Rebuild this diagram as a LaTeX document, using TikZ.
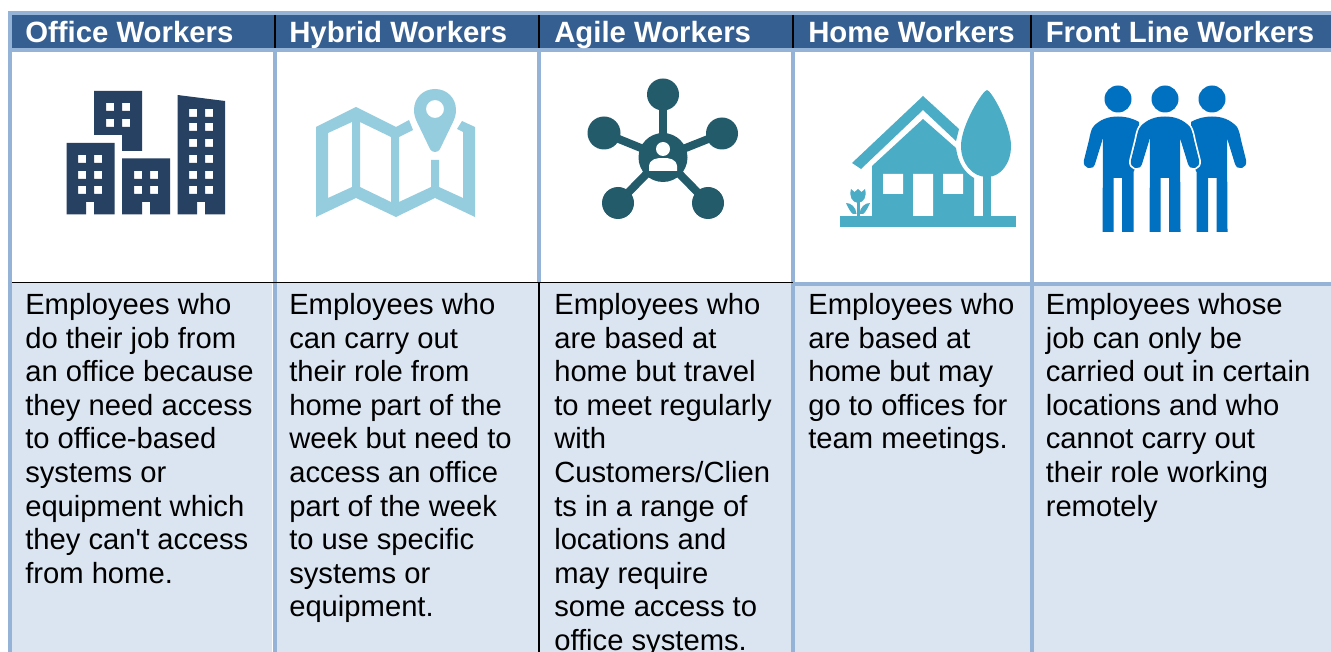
\documentclass[tikz,border=0pt]{standalone}
\usepackage{fontspec}
\setmainfont{Liberation Sans}
\newfontfamily\plainsans{Liberation Sans}
\definecolor{hdr}{HTML}{365F91}
\definecolor{rule}{HTML}{95B3D7}
\definecolor{cell}{HTML}{DBE5F1}
\definecolor{navy}{HTML}{264161}
\definecolor{lightblue}{HTML}{95CDDE}
\definecolor{teal}{HTML}{235B6B}
\definecolor{sky}{HTML}{4BACC6}
\definecolor{royal}{HTML}{0070C0}
\tikzset{
  x=0.75pt,y=-0.75pt,
  headtext/.style={anchor=base west,inner sep=0pt,text=white,font=\fontsize{22pt}{25.3pt}\selectfont\bfseries},
  bodytext/.style={anchor=north west,inner sep=0pt,align=left,text=black,font=\fontsize{21.9pt}{25.2pt}\plainsans\selectfont},
  bluerule/.style={draw=rule,line width=3pt},
  blackrule/.style={draw=black,line width=1.5pt},
}
\begin{document}
\begin{tikzpicture}
\useasboundingbox (0,0) rectangle (1331,652);
\fill[white] (0,0) rectangle (1331,652);
% fills
\fill[hdr] (10,13) rectangle (1331,50);
\fill[cell] (10,283) rectangle (1331,652);
% rules
\draw[draw=white,line width=0.75pt] (272.5,284) -- (272.5,652);
\draw[bluerule] (8,13) -- (1331,13);
\draw[bluerule] (10,50) -- (1331,50);
\draw[bluerule] (10,11) -- (10,652);
\draw[bluerule] (275,50) -- (275,652);
\draw[bluerule] (539,50) -- (539,283);
\draw[bluerule] (793,50) -- (793,652);
\draw[bluerule] (1031.5,50) -- (1031.5,652);
\draw[bluerule] (793,284) -- (1331,284);
\draw[draw=black,line width=0.9pt] (12,282.5) -- (793,282.5);
\draw[blackrule] (539,282.5) -- (539,652);
\draw[blackrule] (275,15) -- (275,48);
\draw[blackrule] (539,15) -- (539,48);
\draw[blackrule] (793,15) -- (793,48);
\draw[blackrule] (1031,15) -- (1031,48);
% headers
\node[headtext] (h1) at (25,43) {Office Workers};
\node[headtext] (h2) at (289,43) {Hybrid Workers};
\node[headtext] (h3) at (554,43) {Agile Workers};
\node[headtext] (h4) at (808,43) {Home Workers};
\node[headtext] (h5) at (1045.5,43) {Front Line Workers};
% body
\node[bodytext] (b1) at (25,293) {Employees who\\do their job from\\an office because\\they need access\\to office-based\\systems or\\equipment which\\they can't access\\from home.};
\node[bodytext] (b2) at (289,293) {Employees who\\can carry out\\their role from\\home part of the\\week but need to\\access an office\\part of the week\\to use specific\\systems or\\equipment.};
\node[bodytext] (b3) at (554,293) {Employees who\\are based at\\home but travel\\to meet regularly\\with\\Customers/Clien\\ts in a range of\\locations and\\may require\\some access to\\office systems.};
\node[bodytext] (b4) at (808,293) {Employees who\\are based at\\home but may\\go to offices for\\team meetings.};
\node[bodytext] (b5) at (1045.5,293) {Employees whose\\job can only be\\carried out in certain\\locations and who\\cannot carry out\\their role working\\remotely};
% office icon
\fill[navy,even odd rule] (94,91) -- (142,91) -- (142,151) -- (122,151) -- (122,135) -- (94,135) -- cycle
  (106,103) rectangle (114,111) (122,103) rectangle (130,111)
  (106,119) rectangle (114,127) (122,119) rectangle (130,127);
\fill[navy,even odd rule] (66.5,143) -- (114.5,143) -- (114.5,214.5) -- (94,214.5) -- (94,202) -- (86,202) -- (86,214.5) -- (66.5,214.5) -- cycle
  (78,155) rectangle (86,163) (94,155) rectangle (102,163)
  (78,171) rectangle (86,179) (94,171) rectangle (102,179)
  (78,186) rectangle (86,194) (94,186) rectangle (102,194);
\fill[navy,even odd rule] (122,158.5) -- (170,158.5) -- (170,214.5) -- (150,214.5) -- (150,202) -- (142,202) -- (142,214.5) -- (122,214.5) -- cycle
  (134,171) rectangle (142,179) (150,171) rectangle (158,179)
  (134,186) rectangle (142,194) (150,186) rectangle (158,194);
\fill[navy,even odd rule] (177.5,95) -- (225,101) -- (225,214.5) -- (205,214.5) -- (205,202) -- (197,202) -- (197,214.5) -- (177.5,214.5) -- cycle
  (189,109) rectangle (197,117) (205,109) rectangle (213,117)
  (189,123) rectangle (197,131) (205,123) rectangle (213,131)
  (189,139) rectangle (197,147) (205,139) rectangle (213,147)
  (189,155) rectangle (197,163) (205,155) rectangle (213,163)
  (189,171) rectangle (197,179) (205,171) rectangle (213,179)
  (189,186) rectangle (197,194) (205,186) rectangle (213,194);
% map icon
\fill[lightblue,even odd rule] (316,127) -- (356,107) -- (396,127) -- (409,120) -- (413,130) -- (399,137) -- (399,202) -- (431,187) -- (431,160) -- (439,160) -- (439,187) -- (463,198) -- (463,132) -- (457,129) -- (462,121) -- (475,127) -- (475,217) -- (435,198) -- (396,217) -- (356,198) -- (316,217) -- cycle
  (328,133) -- (352,122) -- (352,187) -- (328,198) -- cycle
  (360,122) -- (391,137) -- (391,202) -- (360,187) -- cycle;
\fill[lightblue,even odd rule] (435,89) .. controls (447,89) and (456,98) .. (456,110) .. controls (456,114) and (455,118) .. (453,122) -- (440,149) .. controls (438,153) and (432,153) .. (430,149) -- (417,122) .. controls (415,118) and (414,114) .. (414,110) .. controls (414,98) and (423,89) .. (435,89) -- cycle
  (435,109) circle[radius=9];
% network icon
\foreach \px/\py/\r in {663/94.5/16,604/133/16.5,722/133.5/16,618/203/16,708/203/16}{
  \draw[teal,line width=6pt] (663,157) -- (\px,\py);
  \fill[teal] (\px,\py) circle[radius=\r];
}
\fill[teal] (663,157.5) circle[radius=24.5];
\fill[white] (663,149) circle[radius=7];
\fill[white] (649,171) -- (649,166) .. controls (650,159) and (656,158) .. (663,158) .. controls (670,158) and (676,159) .. (677,166) -- (677,171) -- cycle;
% house icon
\fill[sky] (852,163) -- (923,96) -- (959,129) -- (956,141) -- (923,110) -- (861,169) -- cycle;
\fill[sky] (872,166) -- (923,119) -- (956,148) .. controls (958,163) and (965,173) .. (974,178) -- (974,216) -- (872,216) -- cycle;
\fill[sky] (840,216) rectangle (1016,227.5);
\fill[sky] (983,175) rectangle (991,216);
\fill[sky] (987,90) .. controls (991,90) and (1011,125) .. (1011,146) .. controls (1011,163) and (1001,177) .. (987,177) .. controls (972,177) and (961,163) .. (961,146) .. controls (961,125) and (983,90) .. (987,90) -- cycle;
\fill[white] (883,174) rectangle (903,194) (913,174) rectangle (933,216) (943,174) rectangle (963,194);
% flower
\fill[sky] (851,189) -- (854.5,192) -- (858,189) -- (861.5,192) -- (865,189) .. controls (867,197) and (864,202) .. (858,203) .. controls (852,202) and (849,197) .. (851,189) -- cycle;
\fill[sky] (857,202) rectangle (859.5,216);
\fill[sky] (846,203) .. controls (851,203) and (856,207) .. (856.5,214) -- (853,214) .. controls (850,212) and (848,207) .. (846,203) -- cycle;
\fill[sky] (870,203) .. controls (865,203) and (860,207) .. (859.5,214) -- (863,214) .. controls (866,212) and (868,207) .. (870,203) -- cycle;
% people icon: the two side figures, then the front figure with a white halo
\foreach \cx/\sx in {1118/1,1212/-1}{
  \begin{scope}[shift={(\cx,0)},xscale=\sx]
    \fill[royal] (0,99) circle[radius=13.5];
    \fill[royal] (0,116.5) .. controls (-9,116.5) and (-18,119) .. (-25,127) .. controls (-27,130) and (-28,135) .. (-29,140) -- (-34,160) .. controls (-36,169) and (-25,171) .. (-23,164) -- (-15,138) -- (-15.5,232) -- (-4.5,232) -- (-4.5,178) -- (4,178) -- (4,232) -- (15.5,232) -- (15.5,172) -- (21,160) -- (21,122) .. controls (14,118) and (7,116.5) .. (0,116.5) -- cycle;
  \end{scope}
}
\begin{scope}[shift={(1165,0)}]
  \draw[white,line width=2.6pt,line join=round] (0,116.5) .. controls (-9,116.5) and (-18,119) .. (-25,127) .. controls (-27,130) and (-28,135) .. (-29,140) -- (-34,160) .. controls (-36,169) and (-25,171) .. (-23,164) -- (-15,138) -- (-15.5,232) -- (15.5,232) -- (15,138) -- (23,164) .. controls (25,171) and (36,169) .. (34,160) -- (29,140) .. controls (28,135) and (27,130) .. (25,127) .. controls (18,119) and (9,116.5) .. (0,116.5) -- cycle;
  \fill[royal] (0,99) circle[radius=13.5];
  \fill[royal] (0,116.5) .. controls (-9,116.5) and (-18,119) .. (-25,127) .. controls (-27,130) and (-28,135) .. (-29,140) -- (-34,160) .. controls (-36,169) and (-25,171) .. (-23,164) -- (-15,138) -- (-15.5,232) -- (-4.5,232) -- (-4.5,178) -- (4,178) -- (4,232) -- (15.5,232) -- (15,138) -- (23,164) .. controls (25,171) and (36,169) .. (34,160) -- (29,140) .. controls (28,135) and (27,130) .. (25,127) .. controls (18,119) and (9,116.5) .. (0,116.5) -- cycle;
\end{scope}
\end{tikzpicture}
\end{document}
